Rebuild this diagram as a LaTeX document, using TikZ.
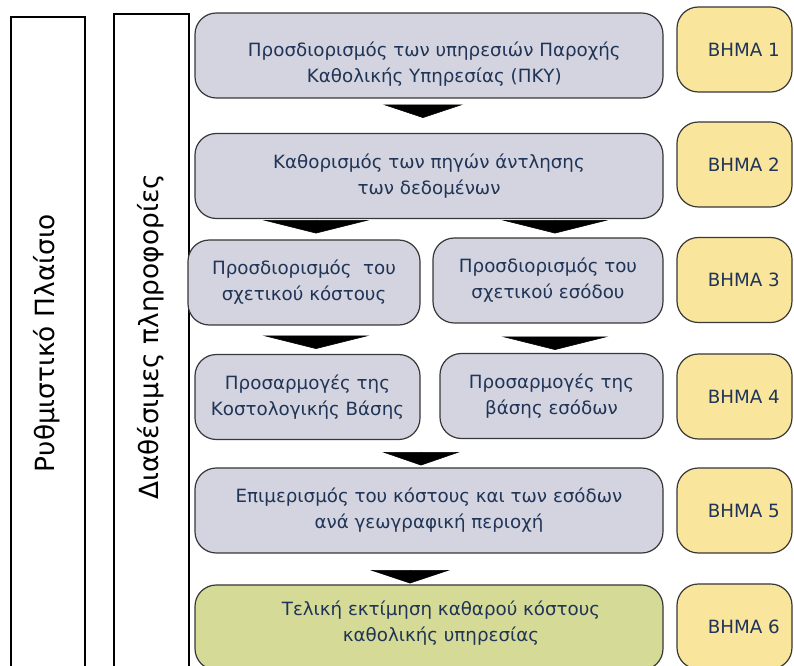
\documentclass[tikz,border=0pt]{standalone}
\usepackage{fontspec}
\setmainfont{DejaVu Sans}
\usepackage{tikz}
\usetikzlibrary{arrows.meta, positioning, calc}
\definecolor{boxgray}{RGB}{211,212,223}
\definecolor{stepyellow}{RGB}{250,229,157}
\definecolor{finalgreen}{RGB}{213,219,151}
\definecolor{textnavy}{RGB}{31,52,86}
\definecolor{edgegray}{RGB}{55,55,55}
\newcommand{\taskfont}{\fontsize{13.7pt}{19.5pt}\selectfont}
\newcommand{\sidefont}{\fontsize{19.8pt}{22pt}\selectfont}
\tikzstyle{task} = [draw=edgegray, line width=0.9pt, rounded corners=16pt, fill=boxgray, text=textnavy, align=center, font=\taskfont, minimum height=63.75pt, inner sep=2pt]
\tikzstyle{tasklabel} = [text=textnavy, align=center, font=\taskfont]
\tikzstyle{stepbox} = [task, fill=stepyellow, minimum width=86.25pt]
\tikzstyle{steplabel} = [xshift=7pt, text=textnavy, font=\taskfont]
\tikzstyle{sidebox} = [draw=black, line width=1.2pt, anchor=north west]
\tikzstyle{sidetext} = [rotate=90, font=\sidefont]
\tikzset{flow/.style={draw=black, line width=0.4pt, -{Triangle[width=#1, length=10pt]}}}

\begin{document}
\begin{tikzpicture}[x=0.75pt, y=-0.75pt]
	\useasboundingbox (0,0) rectangle (794,666);
	\clip (0,0) rectangle (794,666);
	% side frames
	\node [sidebox, minimum width=55.5pt, minimum height=513pt] (regframe) at (10,16) {};
	\node [sidebox, minimum width=56.25pt, minimum height=515pt] (infoframe) at (113,13) {};
	\node [sidetext] (regtext) at (47,343) {Ρυθμιστικό Πλαίσιο};
	\node [sidetext] (infotext) at (150.5,337) {Διαθέσιμες πληροφορίες};

	% tasks
	\node [task, minimum width=351pt, label={[tasklabel, xshift=4pt, yshift=-6.5pt]center:{Προσδιορισμός των υπηρεσιών Παροχής\\Καθολικής Υπηρεσίας (ΠΚΥ)}}] (ident) at (429,55.5) {};
	\node [task, minimum width=351pt] (sources) at (429,176) {Καθορισμός των πηγών άντλησης\\των δεδομένων};
	\node [task, minimum width=174pt] (cost) at (304,282.5) {Προσδιορισμός~ του\\σχετικού κόστους};
	\node [task, minimum width=172.5pt] (revenue) at (548,280.5) {Προσδιορισμός του\\σχετικού εσόδου};
	\node [task, minimum width=168.75pt] (costadj) at (307.5,397) {Προσαρμογές της\\Κοστολογικής Βάσης};
	\node [task, minimum width=167.25pt] (revadj) at (551.5,396) {Προσαρμογές της\\βάσης εσόδων};
	\node [task, minimum width=351pt] (alloc) at (429,510.5) {Επιμερισμός του κόστους και των εσόδων\\ανά γεωγραφική περιοχή};
	\node [task, minimum width=351pt, fill=finalgreen, label={[tasklabel, xshift=9pt, yshift=3.5pt]center:{Τελική εκτίμηση καθαρού κόστους\\καθολικής υπηρεσίας}}] (final) at (429,627.5) {};

	% steps
	\node [stepbox, label={[steplabel]center:ΒΗΜΑ 1}] (step1) at (734.5,49.5) {};
	\node [stepbox, label={[steplabel]center:ΒΗΜΑ 2}] (step2) at (734.5,164.5) {};
	\node [stepbox, label={[steplabel]center:ΒΗΜΑ 3}] (step3) at (734.5,280) {};
	\node [stepbox, label={[steplabel]center:ΒΗΜΑ 4}] (step4) at (734.5,396.5) {};
	\node [stepbox, label={[steplabel]center:ΒΗΜΑ 5}] (step5) at (734.5,510.5) {};
	\node [stepbox, label={[steplabel]center:ΒΗΜΑ 6}] (step6) at (734.5,626.5) {};

	% flow arrows
	\draw [flow=60pt, shorten <=5pt, shorten >=11.25pt] ([xshift=-4.5pt]ident.south) -- ([xshift=-4.5pt]sources.north);
	\draw [flow=80pt, shorten <=1.25pt, shorten >=4.5pt] ([xshift=9pt]cost.north |- sources.south) -- ([xshift=9pt]cost.north);
	\draw [flow=80pt, shorten <=1.25pt, shorten >=3pt] ([xshift=5.25pt]revenue.north |- sources.south) -- ([xshift=5.25pt]revenue.north);
	\draw [flow=80pt, shorten <=8.75pt, shorten >=3.75pt] ([xshift=9pt]cost.south) -- ([xshift=9pt]cost.south |- costadj.north);
	\draw [flow=80pt, shorten <=10.25pt, shorten >=2.25pt] ([xshift=5.25pt]revenue.south) -- ([xshift=5.25pt]revenue.south |- revadj.north);
	\draw [flow=58pt, shorten <=10.25pt, shorten >=1.5pt] ([xshift=-6pt]alloc.north |- costadj.south) -- ([xshift=-6pt]alloc.north);
	\draw [flow=60pt, shorten <=13.25pt, shorten >=0.75pt] ([xshift=-14.25pt]alloc.south) -- ([xshift=-14.25pt]final.north);
\end{tikzpicture}
\end{document}
